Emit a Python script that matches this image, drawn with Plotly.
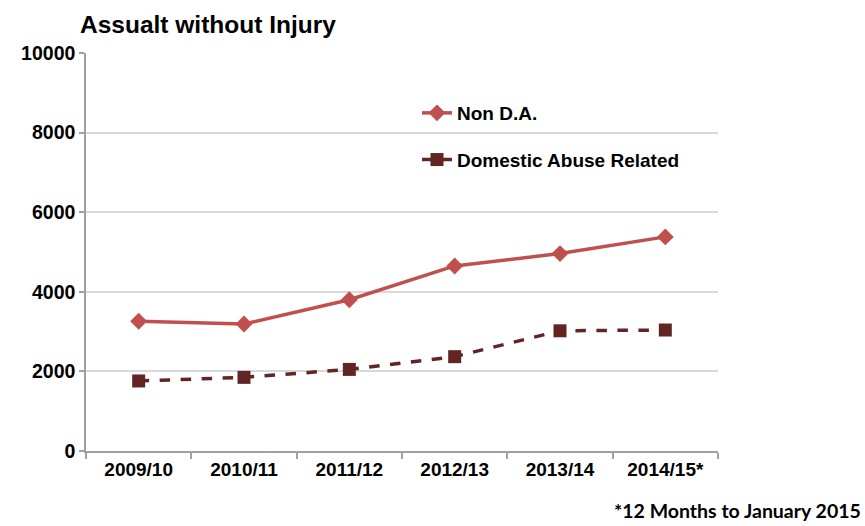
import plotly.graph_objects as go

categories = ["2009/10", "2010/11", "2011/12", "2012/13", "2013/14", "2014/15*"]
non_da = [3260, 3190, 3800, 4650, 4960, 5380]
da_related = [1760, 1850, 2050, 2370, 3020, 3040]
y_ticks = [0, 2000, 4000, 6000, 8000, 10000]

W, H = 865, 526
L, T = 86, 53
PW, PH = 632, 398

fig = go.Figure()
fig.add_trace(go.Scatter(
    x=categories, y=non_da, name="Non D.A.", mode="lines+markers",
    line=dict(color="#C0504D", width=3.5),
    marker=dict(symbol="diamond", size=13, color="#C0504D"),
    legendgroup="a",
))
fig.add_trace(go.Scatter(
    x=categories, y=da_related, name="Domestic Abuse Related", mode="lines+markers",
    line=dict(color="#632523", width=3.5, dash="dash"),
    marker=dict(symbol="square", size=13, color="#632523"),
    legendgroup="b",
))

# white legend backing box (in axis units) that hides the gridline behind the legend
box_x0 = (378 - 86) / (PW / 6) - 0.5
box_y0 = (451 - 185) / PH * 10000
box_y1 = (451 - 95) / PH * 10000

fig.update_layout(
    width=W, height=H,
    margin=dict(l=L, r=W - L - PW, t=T, b=H - T - PH),
    paper_bgcolor="white", plot_bgcolor="white",
    font=dict(family="Liberation Sans", size=18, color="#000000"),
    showlegend=True,
    legend=dict(
        x=(417 - 86) / PW, y=(451 - 94) / PH, xanchor="left", yanchor="top",
        bgcolor="rgba(255,255,255,0)",
        font=dict(family="Liberation Sans", size=19, color="#000000", weight="bold"),
        traceorder="grouped", tracegroupgap=19,
    ),
    shapes=[dict(type="rect", xref="x", yref="y",
                 x0=box_x0, x1=5.5, y0=box_y0, y1=box_y1,
                 fillcolor="white", line=dict(width=0), layer="below")],
    annotations=[
        dict(text="<b>Assualt without Injury</b>", xref="paper", yref="paper",
             x=(78 - 86) / PW, y=(451 - 25) / PH, xanchor="left", yanchor="middle", showarrow=False,
             font=dict(family="Liberation Sans", size=24.5, color="#000000")),
        dict(text="<b>*12 Months to January 2015</b>", xref="paper", yref="paper",
             x=(863 - 86) / PW, y=-(510 - 451) / PH, xanchor="right", yanchor="middle",
             showarrow=False,
             font=dict(family="Lato", size=19.5, color="#000000")),
    ],
)

fig.update_xaxes(
    type="category", range=[-0.5, 5.5], tickson="boundaries", ticks="outside", ticklen=6,
    tickcolor="#A0A0A0", tickwidth=1.5,
    showline=True, linecolor="#A0A0A0", linewidth=1.5,
    showgrid=False,
    tickfont=dict(family="Liberation Sans", size=19, color="#000000", weight="bold"),
)
fig.update_yaxes(
    range=[0, 10000], tickvals=y_ticks, ticktext=[str(v) for v in y_ticks],
    ticks="outside", ticklen=5, tickcolor="#A0A0A0", tickwidth=1.5,
    showline=True, linecolor="#A0A0A0", linewidth=1.5,
    showgrid=True, gridcolor="#D9D9D9", gridwidth=1.5,
    zeroline=False,
    tickfont=dict(family="Liberation Sans", size=19.5, color="#000000", weight="bold"),
)

fig.write_html("out.html", config={"displayModeBar": False},
               post_script="document.body.style.margin='0';")
